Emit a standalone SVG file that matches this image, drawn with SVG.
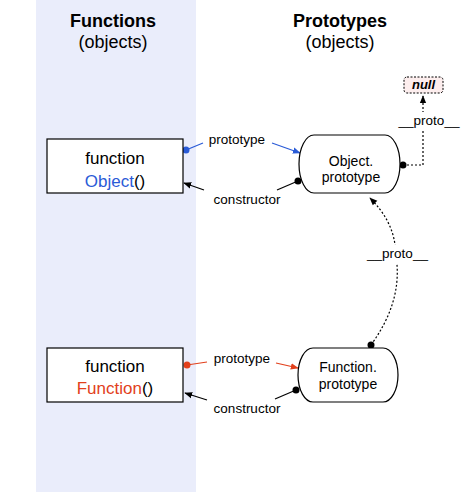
<svg xmlns="http://www.w3.org/2000/svg" width="476" height="492" viewBox="0 0 476 492">
<style>
text{font-family:"Liberation Sans",Arial,sans-serif;fill:#000}
.h{font-size:18px;font-weight:bold;text-anchor:middle}
.s{font-size:18px;text-anchor:middle}
.n{font-size:17px;text-anchor:middle}
.p{font-size:14px;text-anchor:middle}
.l{font-size:13.5px;text-anchor:middle}
.box{fill:#fff;stroke:#000;stroke-width:1.2}
.ln{fill:none;stroke-width:1.2}
.dot{fill:none;stroke:#000;stroke-width:1.2;stroke-dasharray:2 2}
</style>
<defs>
<marker id="ab" viewBox="0 0 10 10" refX="9" refY="5" markerWidth="8" markerHeight="8" orient="auto" markerUnits="userSpaceOnUse"><path d="M0,1 L10,5 L0,9 Z" fill="#000"/></marker>
<marker id="au" viewBox="0 0 10 10" refX="9" refY="5" markerWidth="8" markerHeight="8" orient="auto" markerUnits="userSpaceOnUse"><path d="M0,1 L10,5 L0,9 Z" fill="#2a5bd7"/></marker>
<marker id="ar" viewBox="0 0 10 10" refX="9" refY="5" markerWidth="8" markerHeight="8" orient="auto" markerUnits="userSpaceOnUse"><path d="M0,1 L10,5 L0,9 Z" fill="#e2401c"/></marker>
</defs>
<rect x="36" y="0" width="160" height="492" fill="#eaedfb"/>
<text class="h" x="113" y="27">Functions</text>
<text class="s" x="113" y="48">(objects)</text>
<text class="h" x="340" y="27">Prototypes</text>
<text class="s" x="340" y="48">(objects)</text>

<g id="connectors">
<line class="ln" stroke="#2a5bd7" x1="186" y1="150" x2="203" y2="143"/>
<line class="ln" stroke="#2a5bd7" x1="272" y1="143" x2="300" y2="153" marker-end="url(#au)"/>
<circle cx="186" cy="150" r="3.5" fill="#2a5bd7"/>
<text class="l" x="237" y="144">prototype</text>
<line class="ln" stroke="#000" x1="298" y1="181" x2="277" y2="190"/>
<line class="ln" stroke="#000" x1="204" y1="190" x2="184" y2="183" marker-end="url(#ab)"/>
<circle cx="298" cy="181" r="3.5" fill="#000"/>
<text class="l" x="247" y="204">constructor</text>

<line class="ln" stroke="#e2401c" x1="187" y1="365" x2="207" y2="362"/>
<line class="ln" stroke="#e2401c" x1="276" y1="363" x2="298" y2="368" marker-end="url(#ar)"/>
<circle cx="187" cy="365" r="3.5" fill="#e2401c"/>
<text class="l" x="242" y="363">prototype</text>
<line class="ln" stroke="#000" x1="296" y1="390" x2="275" y2="399"/>
<line class="ln" stroke="#000" x1="207" y1="400" x2="185" y2="393" marker-end="url(#ab)"/>
<circle cx="296" cy="390" r="3.5" fill="#000"/>
<text class="l" x="247" y="413">constructor</text>

<path class="dot" d="M371,345 Q400,305 397,265 L395,245 Q392,220 370,198" marker-end="url(#ab)"/>
<circle cx="371" cy="345" r="3.5" fill="#000"/>
<rect x="366" y="245" width="64" height="18" fill="#fff"/>
<text class="l" x="397.5" y="258">__proto__</text>

<path class="dot" d="M403,165 L423,165 L423,96" marker-end="url(#ab)"/>
<circle cx="403" cy="165" r="3.5" fill="#000"/>
<rect x="397" y="112" width="64" height="17" fill="#fff"/>
<text class="l" x="429" y="125">__proto__</text>
</g>

<g id="null">
<rect x="404" y="77" width="39" height="16" rx="3" fill="#fdeeee" stroke="#000" stroke-width="1" stroke-dasharray="2 1.5"/>
<text x="423.5" y="89" font-size="13px" font-weight="bold" font-style="italic" text-anchor="middle">null</text>
</g>

<g id="function-object">
<rect class="box" x="47" y="139" width="136" height="54"/>
<text class="n" x="115" y="164">function</text>
<text class="n" x="115" y="187"><tspan fill="#2a5bd7">Object</tspan>()</text>
</g>

<g id="function-function">
<rect class="box" x="47" y="348" width="136" height="54"/>
<text class="n" x="115" y="372">function</text>
<text class="n" x="115" y="394"><tspan fill="#e2401c">Function</tspan>()</text>
</g>

<g id="object-prototype">
<rect class="box" x="299" y="135" width="101" height="58" rx="15" ry="29"/>
<text class="p" x="351" y="166">Object.</text>
<text class="p" x="351" y="182">prototype</text>
</g>

<g id="function-prototype">
<rect class="box" x="298" y="348" width="100" height="54" rx="15" ry="27"/>
<text class="p" x="348" y="372">Function.</text>
<text class="p" x="348" y="389">prototype</text>
</g>
</svg>
